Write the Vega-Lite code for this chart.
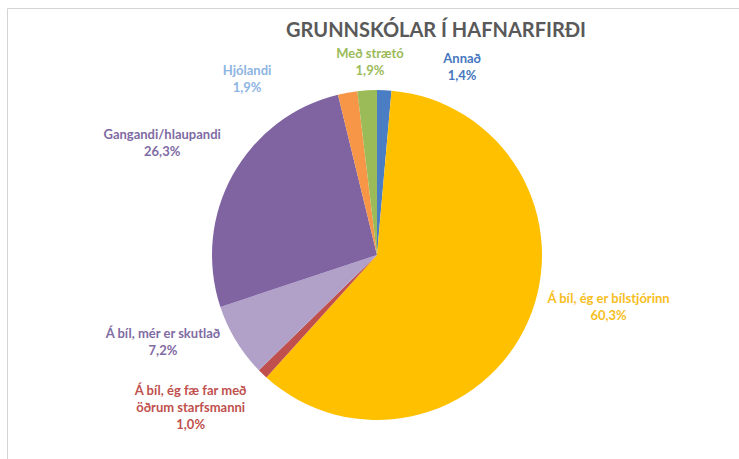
{
  "$schema": "https://vega.github.io/schema/vega-lite/v6.json",
  "width": 732,
  "height": 451,
  "autosize": {"type": "none"},
  "padding": {"left": 7, "top": 8, "right": 0, "bottom": 0},
  "background": "white",
  "view": {"stroke": "#d4d4d4", "strokeWidth": 1},
  "title": {
    "text": "GRUNNSKÓLAR Í HAFNARFIRÐI",
    "anchor": "middle",
    "font": "Lato",
    "fontSize": 20,
    "fontWeight": "bold",
    "color": "#595959",
    "offset": 0,
    "baseline": "alphabetic",
    "dx": 63,
    "dy": 49
  },
  "config": {
    "locale": {"number": {"decimal": ",", "thousands": ".", "grouping": [3], "currency": ["", " kr."]}}
  },
  "data": {
    "values": [
      {"rank": 1, "cat": "Annað", "share": 0.014},
      {"rank": 2, "cat": "Á bíl, ég er bílstjórinn", "share": 0.603},
      {"rank": 3, "cat": "Á bíl, ég fæ far með\nöðrum starfsmanni", "share": 0.010},
      {"rank": 4, "cat": "Á bíl, mér er skutlað", "share": 0.072},
      {"rank": 5, "cat": "Gangandi/hlaupandi", "share": 0.263},
      {"rank": 6, "cat": "Hjólandi", "share": 0.019},
      {"rank": 7, "cat": "Með strætó", "share": 0.019}
    ]
  },
  "layer": [
    {
      "mark": {"type": "arc", "radius": 165, "xOffset": 4, "yOffset": 21.5},
      "encoding": {
        "theta": {"field": "share", "type": "quantitative", "stack": true},
        "order": {"field": "rank", "type": "quantitative"},
        "color": {
          "field": "cat",
          "type": "nominal",
          "legend": null,
          "scale": {
            "domain": ["Annað", "Á bíl, ég er bílstjórinn", "Á bíl, ég fæ far með\nöðrum starfsmanni", "Á bíl, mér er skutlað", "Gangandi/hlaupandi", "Hjólandi", "Með strætó"],
            "range": ["#4A7DC4", "#FFC000", "#C0504D", "#B1A0C7", "#8064A2", "#F79646", "#9BBB59"]
          }
        }
      }
    },
    {
      "mark": {
        "type": "text",
        "radius": 185,
        "xOffset": 4,
        "yOffset": 21.5,
        "font": "Lato",
        "fontSize": 13,
        "fontWeight": "bold",
        "align": "center",
        "baseline": "bottom",
        "lineBreak": "\n",
        "lineHeight": 17.5,
        "dx": {"expr": "[77, 62, -58, -56, -53, -97, 4][datum.rank - 1]"},
        "dy": {"expr": "[-4, -23, 9.5, -10, -23, 5, -9][datum.rank - 1]"}
      },
      "encoding": {
        "theta": {"field": "share", "type": "quantitative", "stack": true},
        "order": {"field": "rank", "type": "quantitative"},
        "text": {"field": "cat", "type": "nominal"},
        "color": {
          "field": "cat",
          "type": "nominal",
          "legend": null,
          "scale": {
            "domain": ["Annað", "Á bíl, ég er bílstjórinn", "Á bíl, ég fæ far með\nöðrum starfsmanni", "Á bíl, mér er skutlað", "Gangandi/hlaupandi", "Hjólandi", "Með strætó"],
            "range": ["#4677BE", "#F7BE1E", "#C0504D", "#7F6BA3", "#7F6BA3", "#8DB4E2", "#9BBB59"]
          }
        }
      }
    },
    {
      "mark": {
        "type": "text",
        "radius": 185,
        "xOffset": 4,
        "yOffset": 21.5,
        "font": "Lato",
        "fontSize": 13,
        "fontWeight": "bold",
        "align": "center",
        "baseline": "top",
        "dx": {"expr": "[77, 62, -58, -56, -53, -97, 4][datum.rank - 1]"},
        "dy": {"expr": "[0, -19, 31, -6, -19, 9, -5][datum.rank - 1]"}
      },
      "encoding": {
        "theta": {"field": "share", "type": "quantitative", "stack": true},
        "order": {"field": "rank", "type": "quantitative"},
        "text": {"field": "share", "type": "quantitative", "format": ".1%"},
        "color": {
          "field": "cat",
          "type": "nominal",
          "legend": null,
          "scale": {
            "domain": ["Annað", "Á bíl, ég er bílstjórinn", "Á bíl, ég fæ far með\nöðrum starfsmanni", "Á bíl, mér er skutlað", "Gangandi/hlaupandi", "Hjólandi", "Með strætó"],
            "range": ["#4677BE", "#F7BE1E", "#C0504D", "#7F6BA3", "#7F6BA3", "#8DB4E2", "#9BBB59"]
          }
        }
      }
    }
  ],
  "resolve": {"scale": {"color": "independent"}}
}
